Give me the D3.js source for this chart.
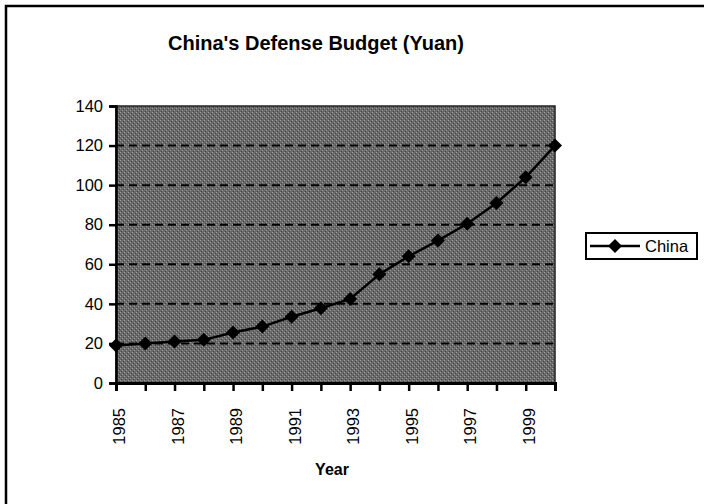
<!DOCTYPE html>
<html><head><meta charset="utf-8">
<script src="https://cdn.jsdelivr.net/npm/d3@7"></script>
<style>body{margin:0;background:#fff}svg{display:block;font-family:Arial,"Liberation Sans",sans-serif}</style>
</head><body>
<svg id="c" width="704" height="504"></svg>
<script>
const years = [1985,1986,1987,1988,1989,1990,1991,1992,1993,1994,1995,1996,1997,1998,1999,2000];
const budget = [19,20,21,21.8,25.5,28.5,33.5,37.8,42.5,55,64,72,80.5,91,104,120];
const yTicks = [0,20,40,60,80,100,120,140];
const xTickLabels = [1985,1987,1989,1991,1993,1995,1997,1999];
const seriesName = "China";
const title = "China's Defense Budget (Yuan)";
const xTitle = "Year";

const svg = d3.select("#c");
const L = 116, R = 555, T = 106, B = 383;
const x = d3.scaleLinear().domain([1985,2000]).range([L,R]);
const y = d3.scaleLinear().domain([0,140]).range([B,T]);
const FONT = "Arial, 'Liberation Sans', sans-serif";

// outer border
svg.append("rect").attr("x",6).attr("y",6).attr("width",720).attr("height",520)
  .attr("fill","#fff").attr("stroke","#000").attr("stroke-width",2.5);

// dithered pattern for plot background
const defs = svg.append("defs");
const pat = defs.append("pattern").attr("id","dots").attr("width",4).attr("height",4).attr("patternUnits","userSpaceOnUse");
pat.append("rect").attr("width",4).attr("height",4).attr("fill","#6a6a6a");
pat.append("rect").attr("x",0).attr("y",0).attr("width",1).attr("height",1).attr("fill","#a0a0a0");
pat.append("rect").attr("x",2).attr("y",2).attr("width",1).attr("height",1).attr("fill","#9a9a9a");
pat.append("rect").attr("x",1).attr("y",3).attr("width",1).attr("height",1).attr("fill","#444");
pat.append("rect").attr("x",3).attr("y",1).attr("width",1).attr("height",1).attr("fill","#444");

svg.append("rect").attr("x",L).attr("y",T).attr("width",R-L).attr("height",B-T)
  .attr("fill","url(#dots)").attr("stroke","#222").attr("stroke-width",1.5);

// gridlines
svg.append("g").selectAll("line").data(yTicks.filter(d=>d>0 && d<140)).join("line")
  .attr("x1",L).attr("x2",R).attr("y1",d=>y(d)).attr("y2",d=>y(d))
  .attr("stroke","#000").attr("stroke-width",2).attr("stroke-dasharray","8,5");

// y axis
const yAx = svg.append("g").attr("transform",`translate(${L},0)`)
  .call(d3.axisLeft(y).tickValues(yTicks).tickSize(7).tickPadding(6));
yAx.select(".domain").attr("stroke-width",2.5);
yAx.selectAll(".tick line").attr("stroke-width",2.5);
yAx.selectAll("text").attr("font-size",16.5).attr("fill","#000").attr("font-family",FONT);

// x axis
const xAx = svg.append("g").attr("transform",`translate(0,${B})`)
  .call(d3.axisBottom(x).tickValues(years).tickSize(8).tickFormat(d=>xTickLabels.includes(d)?String(d):""));
xAx.select(".domain").attr("stroke-width",3);
xAx.selectAll(".tick line").attr("stroke-width",2.5);
xAx.selectAll("text").attr("font-size",16.5).attr("fill","#000").attr("font-family",FONT)
  .attr("transform","rotate(-90)").attr("text-anchor","end").attr("dy","0.35em").attr("x",-25).attr("y",3);

// line
const pts = years.map((yr,i)=>[yr,budget[i]]);
svg.append("path").datum(pts)
  .attr("fill","none").attr("stroke","#000").attr("stroke-width",2.5)
  .attr("d",d3.line().x(d=>x(d[0])).y(d=>y(d[1])));
const diamond = d3.symbol().type(d3.symbolDiamond2 || d3.symbolDiamond).size(125);
svg.append("g").selectAll("path").data(pts).join("path")
  .attr("d",diamond).attr("transform",d=>`translate(${x(d[0])},${y(d[1])})`).attr("fill","#000");

// titles
svg.append("text").attr("x",316).attr("y",50).attr("text-anchor","middle")
  .attr("font-size",20).attr("font-weight","bold").text(title);
svg.append("text").attr("x",332).attr("y",475).attr("text-anchor","middle")
  .attr("font-size",16).attr("font-weight","bold").text(xTitle);

// legend
const lg = svg.append("g");
lg.append("rect").attr("x",586).attr("y",233).attr("width",111).attr("height",26)
  .attr("fill","#fff").attr("stroke","#000").attr("stroke-width",2);
lg.append("line").attr("x1",590).attr("x2",640).attr("y1",246).attr("y2",246).attr("stroke","#000").attr("stroke-width",2.5);
lg.append("path").attr("d",diamond).attr("transform","translate(615,246)").attr("fill","#000");
lg.append("text").attr("x",645).attr("y",252).attr("font-size",16.5).text(seriesName);
</script>
</body></html>
